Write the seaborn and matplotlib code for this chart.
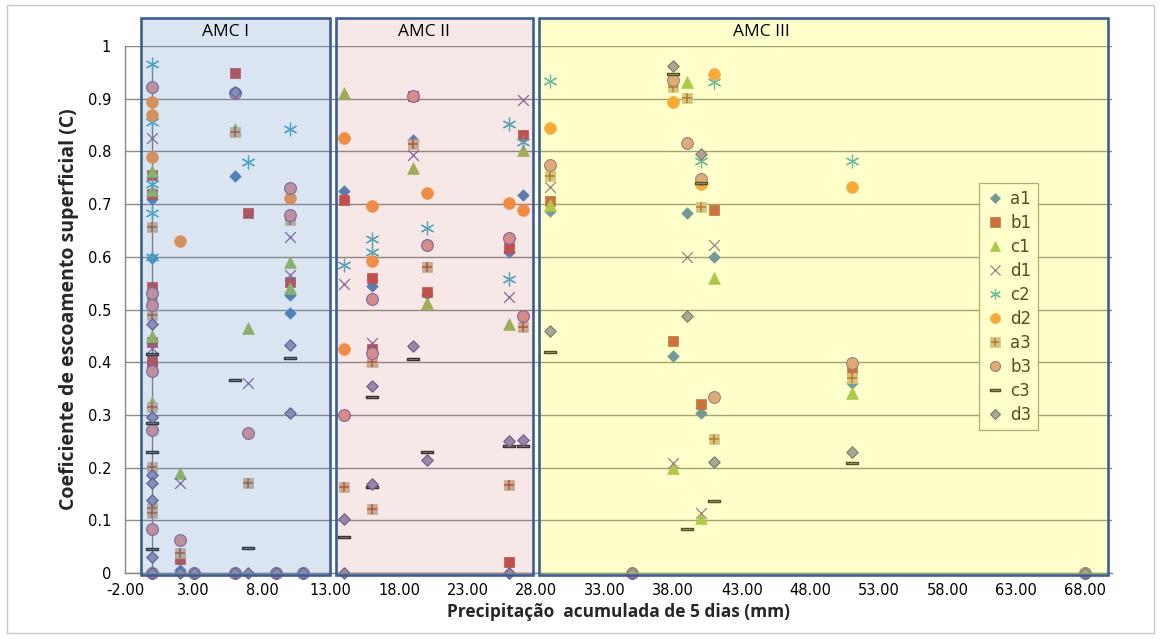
import numpy as np
import pandas as pd
import matplotlib
matplotlib.use("Agg")
import matplotlib.pyplot as plt
import seaborn as sns
from matplotlib.patches import Rectangle
from matplotlib.lines import Line2D
from matplotlib.path import Path

# ---------------- data ----------------
a1_x = [0, 0, 0, 2, 6, 10, 10, 14, 16, 19, 20, 26, 26, 27, 29, 38, 39, 40, 41, 51]
a1_y = [0.71, 0.598, 0.296, 0.006, 0.753, 0.527, 0.493, 0.725, 0.545, 0.822, 0.53, 0.61, 0.0, 0.717, 0.687, 0.412, 0.683, 0.304, 0.6, 0.36]

b1_x = [0, 0, 0, 0, 0, 0, 2, 6, 7, 10, 14, 16, 16, 19, 20, 26, 26, 27, 29, 38, 40, 41, 51]
b1_y = [0.755, 0.72, 0.543, 0.439, 0.405, 0.395, 0.027, 0.949, 0.683, 0.552, 0.707, 0.56, 0.425, 0.905, 0.534, 0.616, 0.02, 0.831, 0.706, 0.44, 0.32, 0.688, 0.385]

c1_x = [0, 0, 0, 0, 2, 6, 7, 10, 10, 14, 16, 19, 20, 26, 27, 29, 38, 39, 40, 41, 51]
c1_y = [0.762, 0.727, 0.45, 0.325, 0.19, 0.843, 0.465, 0.59, 0.54, 0.911, 0.405, 0.768, 0.512, 0.472, 0.803, 0.698, 0.199, 0.931, 0.104, 0.559, 0.341]

d1_x = [0, 0, 2, 7, 10, 10, 14, 16, 19, 26, 27, 29, 38, 39, 40, 41]
d1_y = [0.825, 0.427, 0.17, 0.36, 0.638, 0.565, 0.548, 0.436, 0.793, 0.524, 0.898, 0.732, 0.208, 0.6, 0.113, 0.622]

c2_x = [0, 0, 0, 0, 0, 7, 10, 14, 16, 16, 20, 26, 26, 27, 29, 40, 41, 51]
c2_y = [0.966, 0.855, 0.738, 0.683, 0.60, 0.78, 0.843, 0.584, 0.633, 0.61, 0.654, 0.852, 0.557, 0.818, 0.934, 0.782, 0.932, 0.782]

d2_x = [0, 0, 0, 2, 10, 14, 14, 16, 16, 20, 26, 27, 29, 38, 40, 41, 51]
d2_y = [0.894, 0.869, 0.79, 0.63, 0.711, 0.825, 0.425, 0.697, 0.592, 0.722, 0.703, 0.688, 0.844, 0.894, 0.738, 0.947, 0.732]

a3_x = [0, 0, 0, 0, 0, 0, 0, 2, 6, 7, 10, 14, 16, 16, 19, 20, 26, 27, 29, 38, 39, 40, 41, 51]
a3_y = [0.657, 0.52, 0.49, 0.315, 0.202, 0.123, 0.113, 0.038, 0.836, 0.171, 0.67, 0.164, 0.40, 0.122, 0.814, 0.581, 0.167, 0.467, 0.753, 0.922, 0.902, 0.695, 0.254, 0.37]

b3_x = [0, 0, 0, 0, 0, 0, 0, 2, 3, 6, 6, 7, 9, 10, 10, 11, 14, 16, 16, 19, 20, 26, 27, 29, 35, 38, 39, 40, 41, 51, 68]
b3_y = [0.923, 0.531, 0.508, 0.384, 0.271, 0.083, 0.0, 0.063, 0.0, 0.911, 0.0, 0.266, 0.0, 0.73, 0.68, 0.0, 0.3, 0.52, 0.417, 0.905, 0.622, 0.635, 0.488, 0.774, 0.0, 0.935, 0.815, 0.748, 0.334, 0.399, 0.0]

c3_x = [0, 0, 0, 0, 6, 7, 10, 14, 16, 16, 19, 20, 26, 27, 29, 38, 39, 40, 41, 51]
c3_y = [0.415, 0.285, 0.23, 0.046, 0.366, 0.047, 0.408, 0.069, 0.334, 0.163, 0.407, 0.23, 0.241, 0.241, 0.419, 0.947, 0.083, 0.74, 0.137, 0.209]

d3_x = [0, 0, 0, 0, 0, 0, 0, 2, 3, 6, 6, 7, 9, 10, 10, 11, 14, 14, 16, 16, 19, 20, 26, 26, 27, 29, 35, 38, 39, 40, 41, 51, 68]
d3_y = [0.472, 0.296, 0.186, 0.17, 0.138, 0.03, 0.0, 0.0, 0.0, 0.913, 0.0, 0.0, 0.0, 0.433, 0.303, 0.0, 0.102, 0.0, 0.355, 0.169, 0.43, 0.214, 0.251, 0.0, 0.252, 0.46, 0.0, 0.962, 0.488, 0.795, 0.211, 0.23, 0.0]

series_names = ["a1", "b1", "c1", "d1", "c2", "d2", "a3", "b3", "c3", "d3"]
series_data = {
    "a1": (a1_x, a1_y), "b1": (b1_x, b1_y), "c1": (c1_x, c1_y), "d1": (d1_x, d1_y),
    "c2": (c2_x, c2_y), "d2": (d2_x, d2_y), "a3": (a3_x, a3_y), "b3": (b3_x, b3_y),
    "c3": (c3_x, c3_y), "d3": (d3_x, d3_y),
}

region_labels = ["AMC I", "AMC II", "AMC III"]
x_ticks = [-2, 3, 8, 13, 18, 23, 28, 33, 38, 43, 48, 53, 58, 63, 68]
y_ticks = [0, 0.1, 0.2, 0.3, 0.4, 0.5, 0.6, 0.7, 0.8, 0.9, 1.0]
y_tick_labels = ["0", "0.1", "0.2", "0.3", "0.4", "0.5", "0.6", "0.7", "0.8", "0.9", "1"]

# ---------------- style ----------------
sns.set_style("white")
plt.rcParams["font.family"] = ["DejaVu Sans"]

dash = Path([(-1, -0.26), (1, -0.26), (1, 0.26), (-1, 0.26), (-1, -0.26)],
            [Path.MOVETO, Path.LINETO, Path.LINETO, Path.LINETO, Path.CLOSEPOLY])

styles = {
    "a1": dict(marker="D", color="#4F81BD", edgecolor="#4F81BD", s=34, linewidth=0.5),
    "b1": dict(marker="s", color="#C0504D", edgecolor="#C0504D", s=62, linewidth=0.5),
    "c1": dict(marker="^", color="#9BBB59", edgecolor="#9BBB59", s=72, linewidth=0.5),
    "d1": dict(marker="x", color="#8064A2", s=60, linewidth=0.9),
    "c2": dict(marker=(6, 2, 0), color="#4BACC6", s=85, linewidth=0.9),
    "d2": dict(marker="o", color="#F79646", edgecolor="#F79646", s=72, linewidth=0.5),
    "a3": dict(marker="s", color="#C6B89C", edgecolor="#C6B89C", s=62, linewidth=0.5),
    "b3": dict(marker="o", color="#D99694", edgecolor="#8064A2", s=72, linewidth=0.8),
    "c3": dict(marker=dash, color="#A6A6A6", edgecolor="#262626", s=68, linewidth=1.0),
    "d3": dict(marker="D", color="#9590BA", edgecolor="#5F5A85", s=34, linewidth=0.8),
}

fig = plt.figure(figsize=(11.61, 6.39), dpi=100)
ax = fig.add_axes([125 / 1161, 1 - 573 / 639, (1112 - 125) / 1161, (573 - 46) / 639])

ax.set_xlim(-2, 70)
ax.set_ylim(0, 1)

# gridlines
ax.set_axisbelow(True)
ax.yaxis.grid(True, color="#8C8C8C", linewidth=1.0)
ax.xaxis.grid(False)

# thin vertical line at x = 0
ax.vlines(0, 0, 0.966, color="#7F7F7F", linewidth=1.0, zorder=1)

for name in series_names:
    xs, ys = series_data[name]
    df = pd.DataFrame({"x": xs, "y": ys})
    st = dict(styles[name])
    sns.scatterplot(data=df, x="x", y="y", ax=ax, legend=False, clip_on=False,
                    zorder=2, **st)
    if name == "a3":
        sns.scatterplot(data=df, x="x", y="y", ax=ax, legend=False, clip_on=False,
                        zorder=2, marker="+", color="#B0573A", s=50, linewidth=1.1)

# legend
handles = []
for name in series_names:
    st = styles[name]
    ms = np.sqrt(st["s"]) * 0.85
    if name in ("d1", "c2"):
        h = Line2D([], [], linestyle="none", marker=st["marker"], color=st["color"],
                   markersize=ms, markeredgewidth=st["linewidth"])
    else:
        h = Line2D([], [], linestyle="none", marker=st["marker"], markerfacecolor=st["color"],
                   markeredgecolor=st.get("edgecolor", st["color"]), markersize=ms,
                   markeredgewidth=st["linewidth"])
    if name == "a3":
        h2 = Line2D([], [], linestyle="none", marker="+", color="#B0573A",
                    markersize=ms * 0.9, markeredgewidth=1.1)
        h = (h, h2)
    handles.append(h)

leg = ax.legend(handles, series_names, loc="upper left", bbox_to_anchor=(0.865, 0.74),
                frameon=True, fancybox=False, edgecolor="#9A9A8A", facecolor="white",
                framealpha=1, fontsize=12, labelspacing=0.36, handletextpad=0.4,
                handlelength=1.1, borderpad=0.4, borderaxespad=0)
leg.get_frame().set_linewidth(0.9)
leg.set_zorder(3)

# overlay regions (semi-transparent, drawn over the markers)
regions = [(-0.84, 12.92, (79 / 255, 129 / 255, 189 / 255, 0.20)),
           (13.36, 27.75, (192 / 255, 80 / 255, 77 / 255, 0.13)),
           (28.2, 69.7, (1.0, 1.0, 0.0, 0.20))]
label_x = [5.35, 19.8, 44.4]
for (x0, x1, fc), lab, lx in zip(regions, region_labels, label_x):
    r = Rectangle((x0, -0.003), x1 - x0, 1.056, facecolor=fc, edgecolor="#3C5F91",
                  linewidth=1.9, clip_on=False, zorder=4)
    ax.add_patch(r)
    ax.text(lx, 1.027, lab, ha="center", va="center", fontsize=12.5,
            family=["Open Sans", "DejaVu Sans"], color="black", zorder=5, clip_on=False)

# axes styling
for sp in ["top", "right"]:
    ax.spines[sp].set_visible(False)
for sp in ["left", "bottom"]:
    ax.spines[sp].set_color("#868686")
    ax.spines[sp].set_linewidth(1.0)

ax.set_xticks(x_ticks)
ax.set_xticklabels([f"{v:.2f}" for v in x_ticks])
ax.set_yticks(y_ticks)
ax.set_yticklabels(y_tick_labels)
ax.tick_params(axis="both", which="major", labelsize=10.5, length=4, width=1,
               color="#868686", direction="out", labelcolor="black")
ax.tick_params(axis="y", pad=6)

ax.set_xlabel("Precipitação  acumulada de 5 dias (mm)", fontsize=12.5, fontweight="bold",
              family=["Open Sans", "DejaVu Sans"], labelpad=3)
ax.set_ylabel("Coeficiente de escoamento superficial (C)", fontsize=14, fontweight="bold",
              family=["Open Sans", "DejaVu Sans"], labelpad=6)

# outer chart border
fig.add_artist(Rectangle((0.006, 0.01), 0.988, 0.982, transform=fig.transFigure,
                         fill=False, edgecolor="#C8C8C8", linewidth=1.0))

fig.savefig("out.png", dpi=100, facecolor="white")
